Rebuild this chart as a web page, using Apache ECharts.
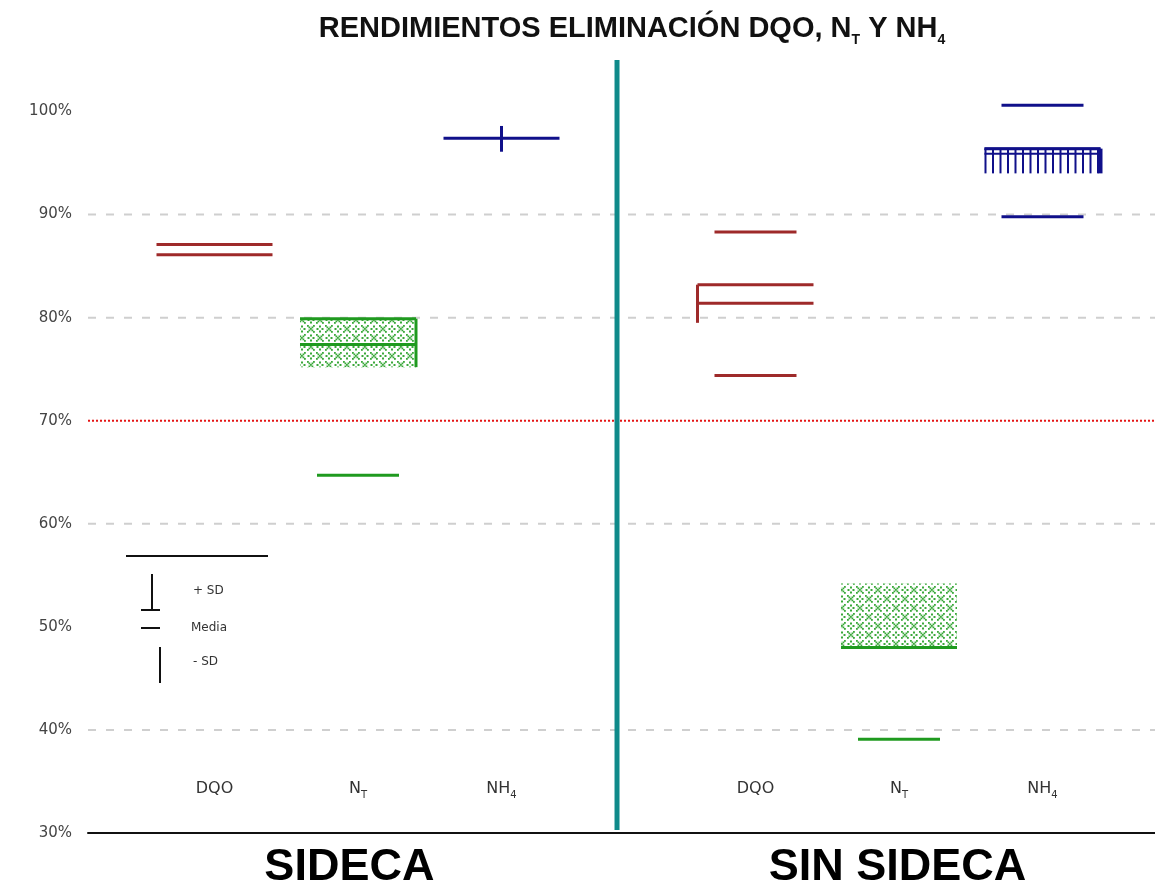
<!DOCTYPE html>
<html>
<head>
<meta charset="utf-8">
<script src="https://cdn.jsdelivr.net/npm/echarts@6/dist/echarts.min.js"></script>
<style>
  html, body { margin: 0; padding: 0; background: #fff; }
  #chart { width: 1155px; height: 890px; }
</style>
</head>
<body>
<div id="chart"></div>
<script>
// Parameters measured in each plant configuration
const groups = ['SIDECA', 'SIN SIDECA'];
const parameters = ['DQO', 'NT', 'NH4'];
const yTicks = [30, 40, 50, 60, 70, 80, 90, 100];
const gridLevels = [40, 60, 80, 90];
const referenceLevel = 70;

// [group, parameter, value %]
const wideLevels = [
  [0, 0, 87.1], [0, 0, 86.1],
  [0, 1, 79.9], [0, 1, 77.4],
  [0, 2, 97.4],
  [1, 0, 83.2], [1, 0, 81.4],
  [1, 1, 48.0],
  [1, 2, 96.4]
];
const narrowLevels = [
  [0, 1, 64.7],
  [1, 0, 88.3], [1, 0, 74.4],
  [1, 1, 39.1],
  [1, 2, 100.6], [1, 2, 89.8]
];
// [group, parameter, low %, high %]
const hatchedBands = [[0, 1, 75.2, 79.9], [1, 1, 48.0, 54.2]];
const stripedBands = [[1, 2, 94.0, 96.4]];
const rightStems = [[0, 1, 75.2, 79.9], [1, 2, 94.0, 96.4]];
const centerStems = [[0, 2, 96.1, 98.6]];
const leftStems = [[1, 0, 79.5, 83.2]];

// layout of the horizontal value axis
const groupOffset = 3.77;
const xMin = -0.8815, xMax = 6.554;
const dividerX = 2.805;
const halfWide = 58, halfNarrow = 41;
const paramColors = ['#9e2a2a', '#1f9a1f', '#10108a'];
const xOf = (g, p) => g * groupOffset + p;

const paramLabels = {
  DQO: '{m|DQO}',
  NT: '{m|N}{s|T}',
  NH4: '{m|NH}{s|4}'
};

// green cross-stitch fill: small crosses alternating with four-dot diamonds
function makeHatch() {
  const c = document.createElement('canvas');
  c.width = 18; c.height = 18;
  const g = c.getContext('2d');
  g.fillStyle = '#3aa83a';
  const cross = (cx, cy) => {
    [[-3,-3],[-1.5,-1.5],[0,0],[1.5,1.5],[3,3],[-3,3],[-1.5,1.5],[1.5,-1.5],[3,-3]]
      .forEach(d => g.fillRect(cx + d[0], cy + d[1], 1.8, 1.8));
  };
  const diamond = (cx, cy) => {
    [[0,-2.5],[2.5,0],[0,2.5],[-2.5,0]]
      .forEach(d => g.fillRect(cx + d[0], cy + d[1], 2, 2));
  };
  cross(4, 4); cross(13, 13);
  diamond(13, 4); diamond(4, 13);
  return c;
}
const hatch = makeHatch();

const chart = echarts.init(document.getElementById('chart'));

function levelSeries(rows, halfWidth) {
  return {
    type: 'custom',
    silent: true,
    z: 4,
    data: rows.map(r => [xOf(r[0], r[1]), r[2], r[1]]),
    renderItem(params, api) {
      const p = api.coord([api.value(0), api.value(1)]);
      return {
        type: 'line',
        shape: { x1: p[0] - halfWidth, y1: p[1], x2: p[0] + halfWidth, y2: p[1] },
        style: { stroke: paramColors[api.value(2)], lineWidth: 3 }
      };
    }
  };
}

function stemSeries(rows, side) {
  return {
    type: 'custom',
    silent: true,
    z: 4,
    data: rows.map(r => [xOf(r[0], r[1]), r[2], r[3], r[1]]),
    renderItem(params, api) {
      const lo = api.coord([api.value(0), api.value(1)]);
      const hi = api.coord([api.value(0), api.value(2)]);
      const x = lo[0] + side * halfWide;
      return {
        type: 'line',
        shape: { x1: x, y1: hi[1], x2: x, y2: lo[1] },
        style: { stroke: paramColors[api.value(3)], lineWidth: side === 1 && api.value(3) === 2 ? 4 : 3 }
      };
    }
  };
}

const series = [
  // dashed grid lines
  {
    type: 'custom', silent: true, z: 1,
    data: gridLevels.map(v => [xMin, v]),
    renderItem(params, api) {
      const a = api.coord([xMin, api.value(1)]);
      const b = api.coord([xMax, api.value(1)]);
      return { type: 'line', shape: { x1: a[0], y1: a[1], x2: b[0], y2: b[1] },
        style: { stroke: '#cfcfcf', lineWidth: 2, lineDash: [8, 10] } };
    }
  },
  // reference line
  {
    type: 'custom', silent: true, z: 2,
    data: [[xMin, referenceLevel]],
    renderItem(params, api) {
      const a = api.coord([xMin, api.value(1)]);
      const b = api.coord([xMax, api.value(1)]);
      return { type: 'line', shape: { x1: a[0], y1: a[1], x2: b[0], y2: b[1] },
        style: { stroke: '#e41414', lineWidth: 2, lineDash: [2, 2] } };
    }
  },
  // divider between configurations
  {
    type: 'custom', silent: true, z: 2,
    data: [[dividerX, 30, 105]],
    renderItem(params, api) {
      const a = api.coord([api.value(0), api.value(1)]);
      const b = api.coord([api.value(0), api.value(2)]);
      return { type: 'line', shape: { x1: a[0], y1: a[1] - 3, x2: b[0], y2: b[1] },
        style: { stroke: '#0f8a8a', lineWidth: 5 } };
    }
  },
  // hatched bands
  {
    type: 'custom', silent: true, z: 3,
    data: hatchedBands.map(r => [xOf(r[0], r[1]), r[2], r[3]]),
    renderItem(params, api) {
      const lo = api.coord([api.value(0), api.value(1)]);
      const hi = api.coord([api.value(0), api.value(2)]);
      return { type: 'rect',
        shape: { x: lo[0] - halfWide, y: hi[1], width: 2 * halfWide, height: lo[1] - hi[1] },
        style: { fill: { image: hatch, repeat: 'repeat' } } };
    }
  },
  // striped bands
  {
    type: 'custom', silent: true, z: 3,
    data: stripedBands.map(r => [xOf(r[0], r[1]), r[2], r[3], r[1]]),
    renderItem(params, api) {
      const lo = api.coord([api.value(0), api.value(1)]);
      const hi = api.coord([api.value(0), api.value(2)]);
      const color = paramColors[api.value(3)];
      const left = lo[0] - halfWide, right = lo[0] + halfWide;
      const children = [];
      for (let x = left + 1; x < right - 2; x += 7.5) {
        children.push({ type: 'line', shape: { x1: x, y1: hi[1], x2: x, y2: lo[1] },
          style: { stroke: color, lineWidth: 2 } });
      }
      children.push({ type: 'line', shape: { x1: left, y1: hi[1], x2: right, y2: hi[1] },
        style: { stroke: color, lineWidth: 2.5 } });
      children.push({ type: 'line', shape: { x1: left, y1: hi[1] + 5, x2: right, y2: hi[1] + 5 },
        style: { stroke: color, lineWidth: 2 } });
      return { type: 'group', children };
    }
  },
  levelSeries(wideLevels, halfWide),
  levelSeries(narrowLevels, halfNarrow),
  stemSeries(rightStems, 1),
  stemSeries(centerStems, 0),
  stemSeries(leftStems, -1)
];

const paramPositions = [];
const paramNames = [];
groups.forEach((g, gi) => parameters.forEach((p, pi) => {
  paramPositions.push(xOf(gi, pi));
  paramNames.push(p);
}));
const groupPositions = groups.map((g, gi) => xOf(gi, 1) - 0.06 + gi * 0.05);

const option = {
  animation: false,
  backgroundColor: '#fff',
  title: {
    text: '{t|RENDIMIENTOS ELIMINACIÓN DQO, N}{s|T}{t| Y NH}{s|4}',
    left: 627, top: 4, textAlign: 'center',
    textStyle: {
      rich: {
        t: { fontFamily: 'Liberation Sans', fontWeight: 'bold', fontSize: 29, color: '#111', lineHeight: 34, verticalAlign: 'bottom' },
        s: { fontFamily: 'Liberation Sans', fontWeight: 'bold', fontSize: 14, color: '#111', lineHeight: 34, verticalAlign: 'bottom', padding: [0, 0, -4, 0] }
      }
    }
  },
  grid: { left: 88, right: 0, top: 60, bottom: 57, containLabel: false, outerBoundsMode: 'none' },
  xAxis: [
    {
      type: 'value', min: xMin, max: xMax,
      axisLine: { show: true, onZero: false, lineStyle: { color: '#111', width: 2 } },
      axisTick: { show: false },
      splitLine: { show: false },
      axisLabel: {
        customValues: paramPositions,
        margin: -56,
        formatter: (v) => {
          const i = paramPositions.findIndex(p => Math.abs(p - v) < 1e-6);
          return i >= 0 ? paramLabels[paramNames[i]] : '';
        },
        rich: {
          m: { fontFamily: 'DejaVu Sans', fontSize: 16, color: '#333', lineHeight: 20, verticalAlign: 'bottom' },
          s: { fontFamily: 'DejaVu Sans', fontSize: 10, color: '#333', lineHeight: 20, verticalAlign: 'bottom', padding: [0, 0, -3, 0] }
        }
      }
    },
    {
      type: 'value', min: xMin, max: xMax, position: 'bottom',
      axisLine: { show: false }, axisTick: { show: false }, splitLine: { show: false },
      axisLabel: {
        customValues: groupPositions,
        margin: 12,
        formatter: (v) => {
          const i = groupPositions.findIndex(p => Math.abs(p - v) < 1e-6);
          return i >= 0 ? groups[i] : '';
        },
        fontFamily: 'Liberation Sans', fontWeight: 'bold', fontSize: 45, color: '#000'
      }
    }
  ],
  yAxis: {
    type: 'value', min: 30, max: 105, interval: 10,
    axisLine: { show: false }, axisTick: { show: false }, splitLine: { show: false },
    axisLabel: {
      customValues: yTicks,
      margin: 16,
      formatter: v => v + '%',
      fontFamily: 'DejaVu Sans', fontSize: 15, color: '#444'
    }
  },
  graphic: [
    { type: 'line', shape: { x1: 126, y1: 556, x2: 268, y2: 556 }, style: { stroke: '#111', lineWidth: 2 } },
    { type: 'line', shape: { x1: 152, y1: 574, x2: 152, y2: 610 }, style: { stroke: '#111', lineWidth: 2 } },
    { type: 'line', shape: { x1: 141, y1: 610, x2: 160, y2: 610 }, style: { stroke: '#111', lineWidth: 2 } },
    { type: 'line', shape: { x1: 141, y1: 628, x2: 160, y2: 628 }, style: { stroke: '#111', lineWidth: 2 } },
    { type: 'line', shape: { x1: 160, y1: 647, x2: 160, y2: 683 }, style: { stroke: '#111', lineWidth: 2 } },
    { type: 'text', x: 193, y: 591, style: { text: '+ SD', fontFamily: 'DejaVu Sans', fontSize: 12, fill: '#333', verticalAlign: 'middle' } },
    { type: 'text', x: 191, y: 628, style: { text: 'Media', fontFamily: 'DejaVu Sans', fontSize: 12, fill: '#333', verticalAlign: 'middle' } },
    { type: 'text', x: 193, y: 662, style: { text: '- SD', fontFamily: 'DejaVu Sans', fontSize: 12, fill: '#333', verticalAlign: 'middle' } }
  ],
  series
};

chart.setOption(option);
</script>
</body>
</html>
